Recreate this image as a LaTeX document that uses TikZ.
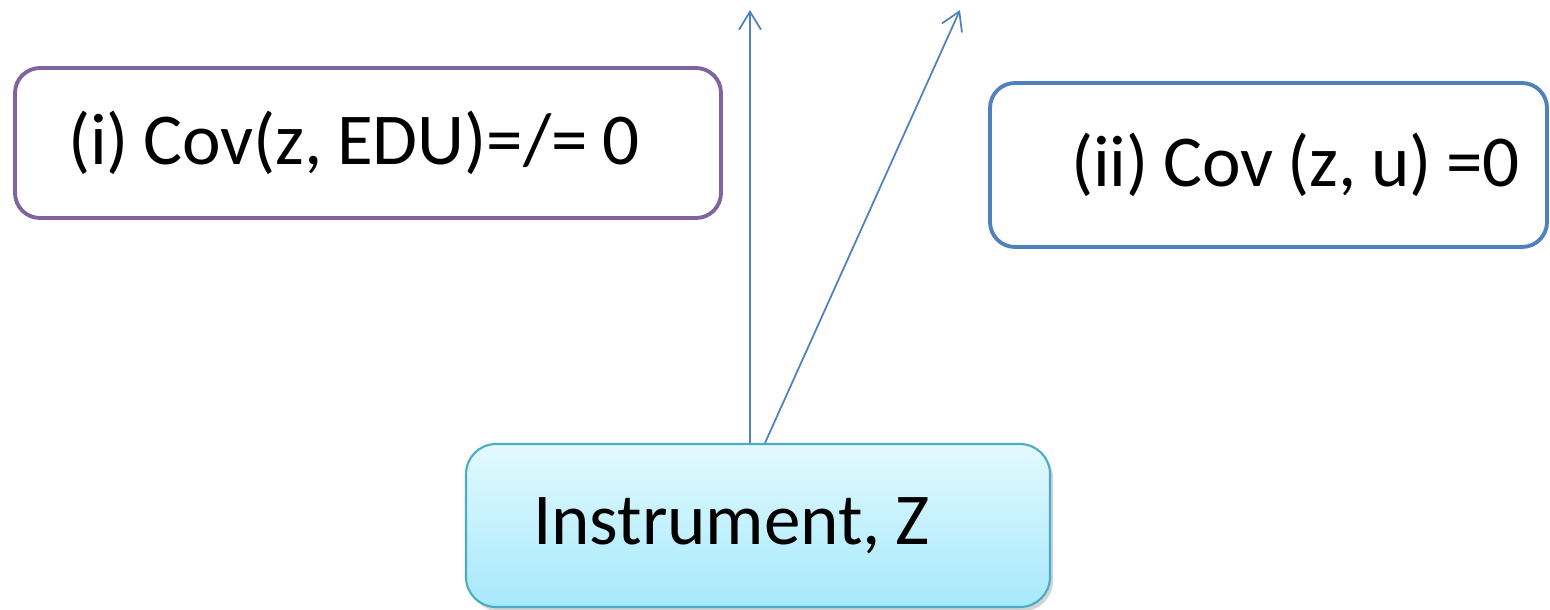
\documentclass[tikz,border=0pt]{standalone}
\usepackage{fontspec}
\setmainfont{Carlito}[WordSpace={0.87,0.3,0.2}]
\usepackage{xcolor}
\usetikzlibrary{arrows.meta, shadows}
\definecolor{condpurple}{HTML}{8064A2}
\definecolor{condblue}{HTML}{4F81BD}
\definecolor{instedge}{HTML}{4BACC6}
\definecolor{insttop}{HTML}{E3F9FE}
\definecolor{instbot}{HTML}{A6E9FC}
\newcommand{\boxfont}{\fontsize{20.8}{25}\selectfont\frenchspacing}
\tikzset{
  cbox/.style={draw, rounded corners=0.25cm, line width=1.1pt, fill=white, font=\boxfont},
  inst/.style={draw=instedge, rounded corners=0.3cm, line width=0.6pt, top color=insttop, bottom color=instbot,
    drop shadow={opacity=0.35, shadow xshift=0.03cm, shadow yshift=-0.04cm}, font=\boxfont},
  arr/.style={-{Straight Barb[length=1.8mm, width=2.2mm]}, draw=condblue, line width=0.5pt},
}

\begin{document}
\begin{tikzpicture}
\useasboundingbox (0,0) rectangle (15.5,-6.09);
\node[cbox, draw=condpurple, minimum width=7.06cm, minimum height=1.5cm] (relev) at (3.68,-1.43) {\makebox[6.0cm][l]{(i) Cov(z, EDU)=/= 0}};
\node[cbox, draw=condblue, minimum width=5.57cm, minimum height=1.64cm] (exog) at (12.685,-1.65) {\makebox[5.03cm][r]{(ii) Cov (z, u) =0}};
\node[inst, minimum width=5.84cm, minimum height=1.63cm] (instr) at (7.58,-5.255) {\makebox[4.5cm][l]{Instrument, Z}};
\coordinate (tipA) at (7.5,-0.1);
\coordinate (tipB) at (9.6,-0.1);
\draw[arr] ([xshift=-0.08cm]instr.north) -- (tipA);
\draw[arr] ([xshift=0.07cm]instr.north) -- (tipB);
\end{tikzpicture}
\end{document}
